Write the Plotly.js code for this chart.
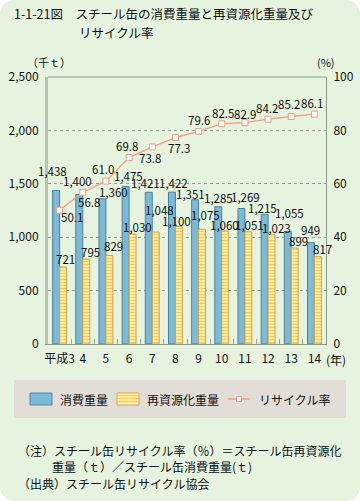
<!DOCTYPE html>
<html><head><meta charset="utf-8">
<script src="https://cdn.plot.ly/plotly-3.0.1.min.js"></script>
<style>
html,body{margin:0;padding:0;background:#fff;}
#chart{width:360px;height:501px;border-radius:14px;overflow:hidden;}
</style></head>
<body><div id="chart"></div>
<script>
// ---- data ----
const categories = ['平成3','4','5','6','7','8','9','10','11','12','13','14'];
const consumption = [1438,1400,1360,1475,1421,1422,1351,1285,1269,1215,1055,949];
const recycled = [721,795,829,1030,1048,1100,1075,1060,1051,1023,899,817];
const recycleRate = [50.1,56.8,61.0,69.8,73.8,77.3,79.6,82.5,82.9,84.2,85.2,86.1];

// ---- label offsets (styling, pixels) ----
const blueDx = [-7,-5,8,-1,-7,-2,-8,-3,1,-6,-2,-4];
const blueDy = [19,13,7,10,9,9,6,9,11,6,18,13];
const yelDx = [6,8,8,8,7,1,7,3,5,8,7,8];
const yelDy = [8,7,9,7,22,6,14,6,7,7,7,8];
const rateDx = [12,6,-3,-2,-2,4,0,1,0,-1,-2,-2];
const rateDy = [-7,-10,12,12,-11,-10,11.5,11,9,11.5,13,11];

const W=360,H=501,L=48,R=326,T=77,B=344;
const px = x => (x-L)/(R-L);
const py = y => (B-y)/(B-T);
const FONT = '"Noto Sans CJK JP", "Noto Sans", sans-serif';
const SALMON = '#f19c84';

const traces = [
  {type:'bar', x:categories, y:consumption, name:'消費重量', yaxis:'y',
   marker:{color:'#7bb9d9', line:{color:'#4f7f96', width:1}}, showlegend:false, hoverinfo:'skip'},
  {type:'bar', x:categories, y:recycled, name:'再資源化重量', yaxis:'y',
   marker:{color:'#fff3b2', line:{color:'#c9a452', width:1},
     pattern:{shape:'-', fgcolor:'#fbcf55', bgcolor:'#fff4b8', size:3, solidity:0.5, fillmode:'replace'}},
   showlegend:false, hoverinfo:'skip'},
  {type:'scatter', mode:'lines+markers', x:categories, y:recycleRate, name:'リサイクル率', yaxis:'y2',
   line:{color:SALMON, width:1.3},
   marker:{symbol:'square', size:6, color:'#ffffff', line:{color:SALMON, width:1}},
   showlegend:false, hoverinfo:'skip', cliponaxis:false}
];

const fmt = v => v.toLocaleString('en-US');
const ann = [];
const lab = {size:11.5, color:'#111', family:FONT};
categories.forEach((c,i)=>{
  ann.push({x:i, y:consumption[i], xref:'x', yref:'y', text:fmt(consumption[i]), showarrow:false,
    xshift:blueDx[i], yshift:blueDy[i], xanchor:'center', yanchor:'middle', font:lab});
  ann.push({x:i, y:recycled[i], xref:'x', yref:'y', text:fmt(recycled[i]), showarrow:false,
    xshift:yelDx[i], yshift:yelDy[i], xanchor:'center', yanchor:'middle', font:lab});
  ann.push({x:i, y:recycleRate[i], xref:'x', yref:'y2', text:recycleRate[i].toFixed(1), showarrow:false,
    xshift:rateDx[i], yshift:rateDy[i], xanchor:'center', yanchor:'middle', font:lab});
});
// axis unit labels
ann.push({xref:'paper', yref:'paper', x:px(49), y:py(62), text:'（千ｔ）', showarrow:false, xanchor:'center', yanchor:'middle', font:{size:11,color:'#111',family:FONT}});
ann.push({xref:'paper', yref:'paper', x:px(326), y:py(62), text:'(%)', showarrow:false, xanchor:'center', yanchor:'middle', font:{size:11,color:'#111',family:FONT}});
ann.push({xref:'paper', yref:'paper', x:px(324), y:py(359), text:'(年)', showarrow:false, xanchor:'left', yanchor:'middle', font:{size:12,color:'#111',family:FONT}});
// title line 2
ann.push({xref:'paper', yref:'paper', x:px(77), y:py(32), text:'リサイクル率', showarrow:false, xanchor:'left', yanchor:'middle', font:{size:12.5,color:'#111',family:FONT}});
// legend texts
const legFont = {size:12, color:'#111', family:FONT};
ann.push({xref:'paper', yref:'paper', x:px(58), y:py(399), text:'消費重量', showarrow:false, xanchor:'left', yanchor:'middle', font:legFont});
ann.push({xref:'paper', yref:'paper', x:px(145), y:py(399), text:'再資源化重量', showarrow:false, xanchor:'left', yanchor:'middle', font:legFont});
ann.push({xref:'paper', yref:'paper', x:px(257), y:py(399), text:'リサイクル率', showarrow:false, xanchor:'left', yanchor:'middle', font:legFont});
// notes
const noteFont = {size:12, color:'#111', family:FONT};
ann.push({xref:'paper', yref:'paper', x:px(16), y:py(450), text:'（注）スチール缶リサイクル率（％）＝スチール缶再資源化', showarrow:false, xanchor:'left', yanchor:'middle', font:noteFont});
ann.push({xref:'paper', yref:'paper', x:px(50), y:py(466), text:'重量（ｔ）／スチール缶消費重量(ｔ)', showarrow:false, xanchor:'left', yanchor:'middle', font:noteFont});
ann.push({xref:'paper', yref:'paper', x:px(16), y:py(483), text:'（出典）スチール缶リサイクル協会', showarrow:false, xanchor:'left', yanchor:'middle', font:noteFont});

const shapes = [
  {type:'line', xref:'paper', yref:'paper', x0:0, x1:1, y0:1, y1:1, line:{color:'#8fa08a', width:1}},
  {type:'rect', xref:'paper', yref:'paper', x0:px(14), x1:px(346), y0:py(380), y1:py(418), fillcolor:'#e3ddd7', line:{width:0}, layer:'below'},
  {type:'rect', xref:'paper', yref:'paper', x0:px(30), x1:px(52), y0:py(393), y1:py(405), fillcolor:'#7bb9d9', line:{color:'#55859c', width:1}},
  {type:'rect', xref:'paper', yref:'paper', x0:px(117), x1:px(139), y0:py(393), y1:py(405), fillcolor:'#fff4b8', line:{color:'#c9a452', width:1}},
  {type:'line', xref:'paper', yref:'paper', x0:px(228), x1:px(250), y0:py(399), y1:py(399), line:{color:SALMON, width:1.3}},
  {type:'rect', xref:'paper', yref:'paper', x0:px(236.5), x1:px(241.5), y0:py(396.5), y1:py(401.5), fillcolor:'#ffffff', line:{color:SALMON, width:1}}
];
[395.5, 398.5, 401.5].forEach(y=>{
  shapes.push({type:'line', xref:'paper', yref:'paper', x0:px(118), x1:px(138), y0:py(y), y1:py(y), line:{color:'#fbcf55', width:1.6}});
});

const layout = {
  width:W, height:H,
  margin:{l:L, r:W-R, t:T, b:H-B, pad:0},
  paper_bgcolor:'#e5f3df', plot_bgcolor:'rgba(0,0,0,0)',
  font:{family:FONT, size:12, color:'#111'},
  title:{text:'1-1-21図　スチール缶の消費重量と再資源化重量及び', x:14/W, xanchor:'left', xref:'container',
         y:1-15/H, yanchor:'middle', yref:'container', font:{size:12.5, color:'#111', family:FONT}},
  barmode:'group', bargap:0.4, bargroupgap:0,
  showlegend:false,
  xaxis:{type:'category', range:[-0.5, 11.5], autorange:false, showline:true, linecolor:'#8c9a88', linewidth:1,
    ticks:'inside', tickson:'boundaries', ticklen:5, tickcolor:'#9aa596', showgrid:false, zeroline:false,
    tickangle:0, ticklabelstandoff:4, tickfont:{size:12, family:FONT, color:'#111'}},
  yaxis:{range:[0,2500], autorange:false, dtick:500, tickformat:',d', showline:true, linecolor:'#b3c4ac', linewidth:3,
    showgrid:true, gridcolor:'#9a9a9a', griddash:'dot', gridwidth:1, zeroline:false, ticks:'',
    ticklabelstandoff:4, tickfont:{size:12, family:FONT, color:'#111'}},
  yaxis2:{range:[0,100], autorange:false, dtick:20, overlaying:'y', side:'right', showline:true, linecolor:'#8c9a88', linewidth:1,
    showgrid:false, zeroline:false, ticks:'', ticklabelstandoff:4, tickfont:{size:12, family:FONT, color:'#111'}},
  annotations:ann, shapes:shapes
};
Plotly.newPlot('chart', traces, layout, {staticPlot:true, displayModeBar:false});
</script></body></html>
